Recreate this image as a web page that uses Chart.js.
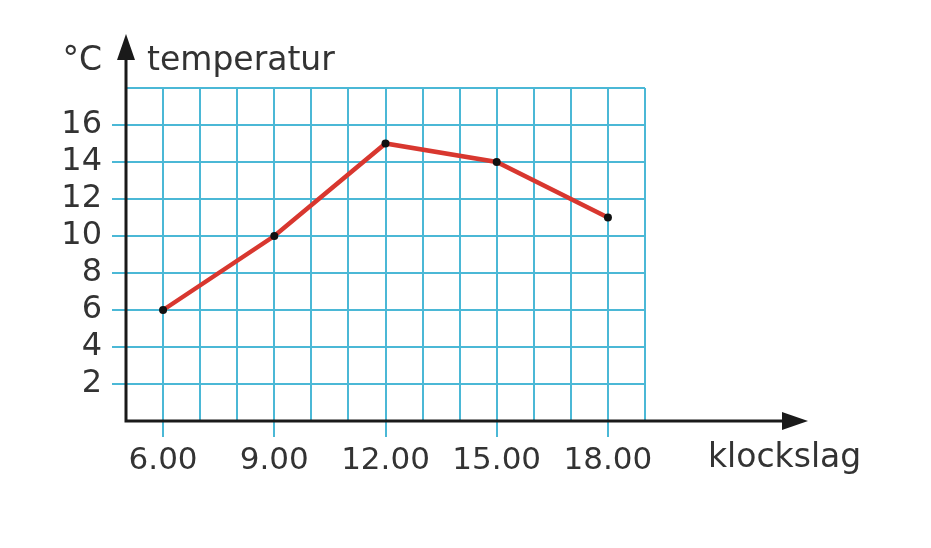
<!DOCTYPE html>
<html>
<head>
<meta charset="utf-8">
<script src="https://cdn.jsdelivr.net/npm/chart.js@4/dist/chart.umd.min.js"></script>
<style>
  html, body { margin: 0; padding: 0; background: #fff; }
  canvas { display: block; }
</style>
</head>
<body>
<canvas id="chart" width="931" height="548"></canvas>
<script>
var hours = [6, 9, 12, 15, 18]
var temps = [6, 10, 15, 14, 11]

var xTickValues = [6, 9, 12, 15, 18]
var xTickLabels = ['6.00', '9.00', '12.00', '15.00', '18.00']
var yTickValues = [2, 4, 6, 8, 10, 12, 14, 16]

var gridBlue = '#4bb8d6'
var ink = '#333333'
var font = 'DejaVu Sans'

// axes with arrows and the axis captions
var arrowAxes = {
    id: 'arrowAxes',
    afterDraw: function (chart) {
        var ctx = chart.ctx
        var x = chart.scales.x
        var y = chart.scales.y
        var ox = x.getPixelForValue(5)
        var oy = y.getPixelForValue(0)
        ctx.save()
        ctx.strokeStyle = '#1a1a1a'
        ctx.fillStyle = '#1a1a1a'
        ctx.lineWidth = 3
        ctx.beginPath()
        ctx.moveTo(ox, oy)
        ctx.lineTo(790, oy)
        ctx.moveTo(ox, oy + 1.5)
        ctx.lineTo(ox, 52)
        ctx.stroke()
        ctx.beginPath()
        ctx.moveTo(808, oy)
        ctx.lineTo(782, oy - 9)
        ctx.lineTo(782, oy + 9)
        ctx.closePath()
        ctx.fill()
        ctx.beginPath()
        ctx.moveTo(ox, 34)
        ctx.lineTo(ox - 9, 60)
        ctx.lineTo(ox + 9, 60)
        ctx.closePath()
        ctx.fill()

        ctx.fillStyle = ink
        ctx.font = '33px "' + font + '"'
        ctx.textBaseline = 'alphabetic'
        ctx.textAlign = 'left'
        ctx.fillText('temperatur', 147, 70)
        ctx.fillText('klockslag', 708, 467)
        ctx.textAlign = 'right'
        ctx.fillText('°C', 102, 70)
        ctx.restore()
    }
}

var chart = new Chart(
    document.getElementById('chart'),
    {
        type: 'line',
        data: {
            datasets: [
                {
                    data: hours.map(function (h, i) { return { x: h, y: temps[i] } }),
                    borderColor: '#d8372f',
                    borderWidth: 4.5,
                    pointRadius: 4,
                    pointBackgroundColor: '#111',
                    pointBorderWidth: 0,
                    tension: 0,
                }
            ]
        },
        options: {
            responsive: false,
            animation: false,
            layout: { padding: { top: 88, right: 286, left: 0, bottom: 0 } },
            plugins: { legend: { display: false }, tooltip: { enabled: false } },
            scales: {
                x: {
                    type: 'linear',
                    min: 5,
                    max: 19,
                    afterFit: function (s) { s.height = 127 },
                    border: { display: false },
                    grid: {
                        color: gridBlue,
                        lineWidth: 2,
                        tickLength: 16,
                        tickColor: function (c) {
                            return xTickValues.indexOf(c.tick.value) >= 0 ? gridBlue : 'rgba(0,0,0,0)'
                        }
                    },
                    ticks: {
                        stepSize: 1,
                        autoSkip: false,
                        maxRotation: 0,
                        padding: 5,
                        color: ink,
                        font: { family: font, size: 31 },
                        callback: function (v) {
                            var i = xTickValues.indexOf(v)
                            return i >= 0 ? xTickLabels[i] : ''
                        }
                    }
                },
                y: {
                    min: 0,
                    max: 18,
                    afterFit: function (s) { s.width = 126 },
                    border: { display: false },
                    grid: {
                        color: gridBlue,
                        lineWidth: 2,
                        tickLength: 14,
                        tickColor: function (c) {
                            return yTickValues.indexOf(c.tick.value) >= 0 ? gridBlue : 'rgba(0,0,0,0)'
                        }
                    },
                    ticks: {
                        stepSize: 2,
                        autoSkip: false,
                        padding: 10,
                        color: ink,
                        font: { family: font, size: 32 },
                        callback: function (v) {
                            return yTickValues.indexOf(v) >= 0 ? String(v) : ''
                        }
                    }
                }
            }
        },
        plugins: [arrowAxes]
    }
);
</script>
</body>
</html>
